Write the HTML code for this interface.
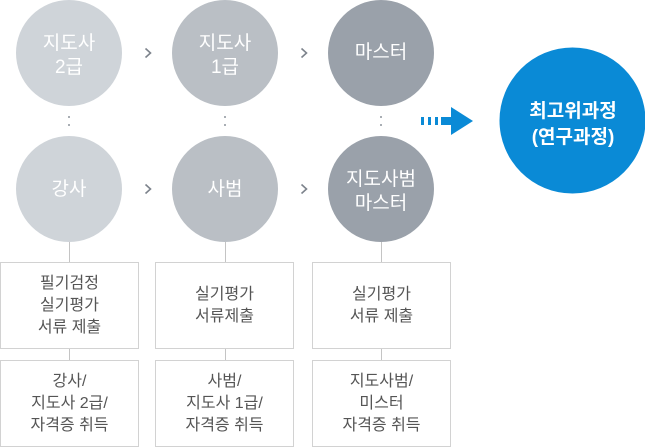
<!DOCTYPE html>
<html><head><meta charset="utf-8">
<style>
html,body{margin:0;padding:0;background:#fff;}
body{width:645px;height:448px;position:relative;overflow:hidden;font-family:"Liberation Sans","Noto Sans CJK KR",sans-serif;}
.c{position:absolute;width:106px;height:106px;border-radius:50%;color:#fff;font-size:19px;line-height:24px;display:flex;align-items:center;justify-content:center;text-align:center;}
.c span{display:block;padding-top:6px;}
.c1{background:#cfd4d9;}
.c2{background:#babfc5;}
.c3{background:#9aa1aa;}
.box{position:absolute;width:137px;height:85px;border:1px solid #d2d2d2;color:#555;font-size:16px;line-height:22px;display:flex;align-items:center;justify-content:center;text-align:center;background:#fff;}
.vl{position:absolute;width:1px;background:#c4c4c4;}
.dot{position:absolute;width:2px;height:2px;border-radius:1px;background:#8e949c;}
</style></head>
<body>
<svg width="645" height="448" style="position:absolute;left:0;top:0">
  <g fill="none" stroke="#7d838c" stroke-width="1.6">
    <polyline points="145.5,48.5 150.5,53 145.5,57.5"/>
    <polyline points="301.5,48.5 306.5,53 301.5,57.5"/>
    <polyline points="145.5,184.5 150.5,189 145.5,193.5"/>
    <polyline points="301.5,184.5 306.5,189 301.5,193.5"/>
  </g>
  <g fill="#0a8ad6">
    <rect x="421" y="117" width="3" height="8"/>
    <rect x="428" y="117" width="3" height="8"/>
    <rect x="435" y="117" width="3" height="8"/>
    <rect x="441" y="117" width="12" height="8"/>
    <polygon points="451,107 473,121 451,135"/>
  </g>
  <circle cx="572.5" cy="120.5" r="73" fill="#0a8ad6"/>
</svg>

<div class="c c1" style="left:16px;top:0px"><span>지도사<br>2급</span></div>
<div class="c c2" style="left:172px;top:0px"><span>지도사<br>1급</span></div>
<div class="c c3" style="left:328px;top:0px"><span style="padding-top:0">마스터</span></div>

<div class="c c1" style="left:16px;top:136px"><span style="padding-top:2px">강사</span></div>
<div class="c c2" style="left:172px;top:136px"><span style="padding-top:2px">사범</span></div>
<div class="c c3" style="left:328px;top:136px"><span>지도사범<br>마스터</span></div>

<div class="dot" style="left:68px;top:116px"></div>
<div class="dot" style="left:68px;top:124px"></div>
<div class="dot" style="left:224px;top:116px"></div>
<div class="dot" style="left:224px;top:124px"></div>
<div class="dot" style="left:380px;top:116px"></div>
<div class="dot" style="left:380px;top:124px"></div>

<div style="position:absolute;left:500px;top:47px;width:146px;height:146px;display:flex;align-items:center;justify-content:center;text-align:center;color:#fff;font-size:19px;line-height:26px;font-weight:bold;"><span style="padding-top:10px">최고위과정<br>(연구과정)</span></div>

<div class="vl" style="left:69px;top:242px;height:20px"></div>
<div class="vl" style="left:225px;top:242px;height:20px"></div>
<div class="vl" style="left:381px;top:242px;height:20px"></div>
<div class="vl" style="left:69px;top:349px;height:11px"></div>
<div class="vl" style="left:225px;top:349px;height:11px"></div>
<div class="vl" style="left:381px;top:349px;height:11px"></div>

<div class="box" style="left:0px;top:262px"><span>필기검정<br>실기평가<br>서류 제출</span></div>
<div class="box" style="left:155px;top:262px"><span>실기평가<br>서류제출</span></div>
<div class="box" style="left:312px;top:262px"><span>실기평가<br>서류 제출</span></div>

<div class="box" style="left:0px;top:360px"><span>강사/<br>지도사 2급/<br>자격증 취득</span></div>
<div class="box" style="left:155px;top:360px"><span>사범/<br>지도사 1급/<br>자격증 취득</span></div>
<div class="box" style="left:312px;top:360px"><span>지도사범/<br>미스터<br>자격증 취득</span></div>
</body></html>
